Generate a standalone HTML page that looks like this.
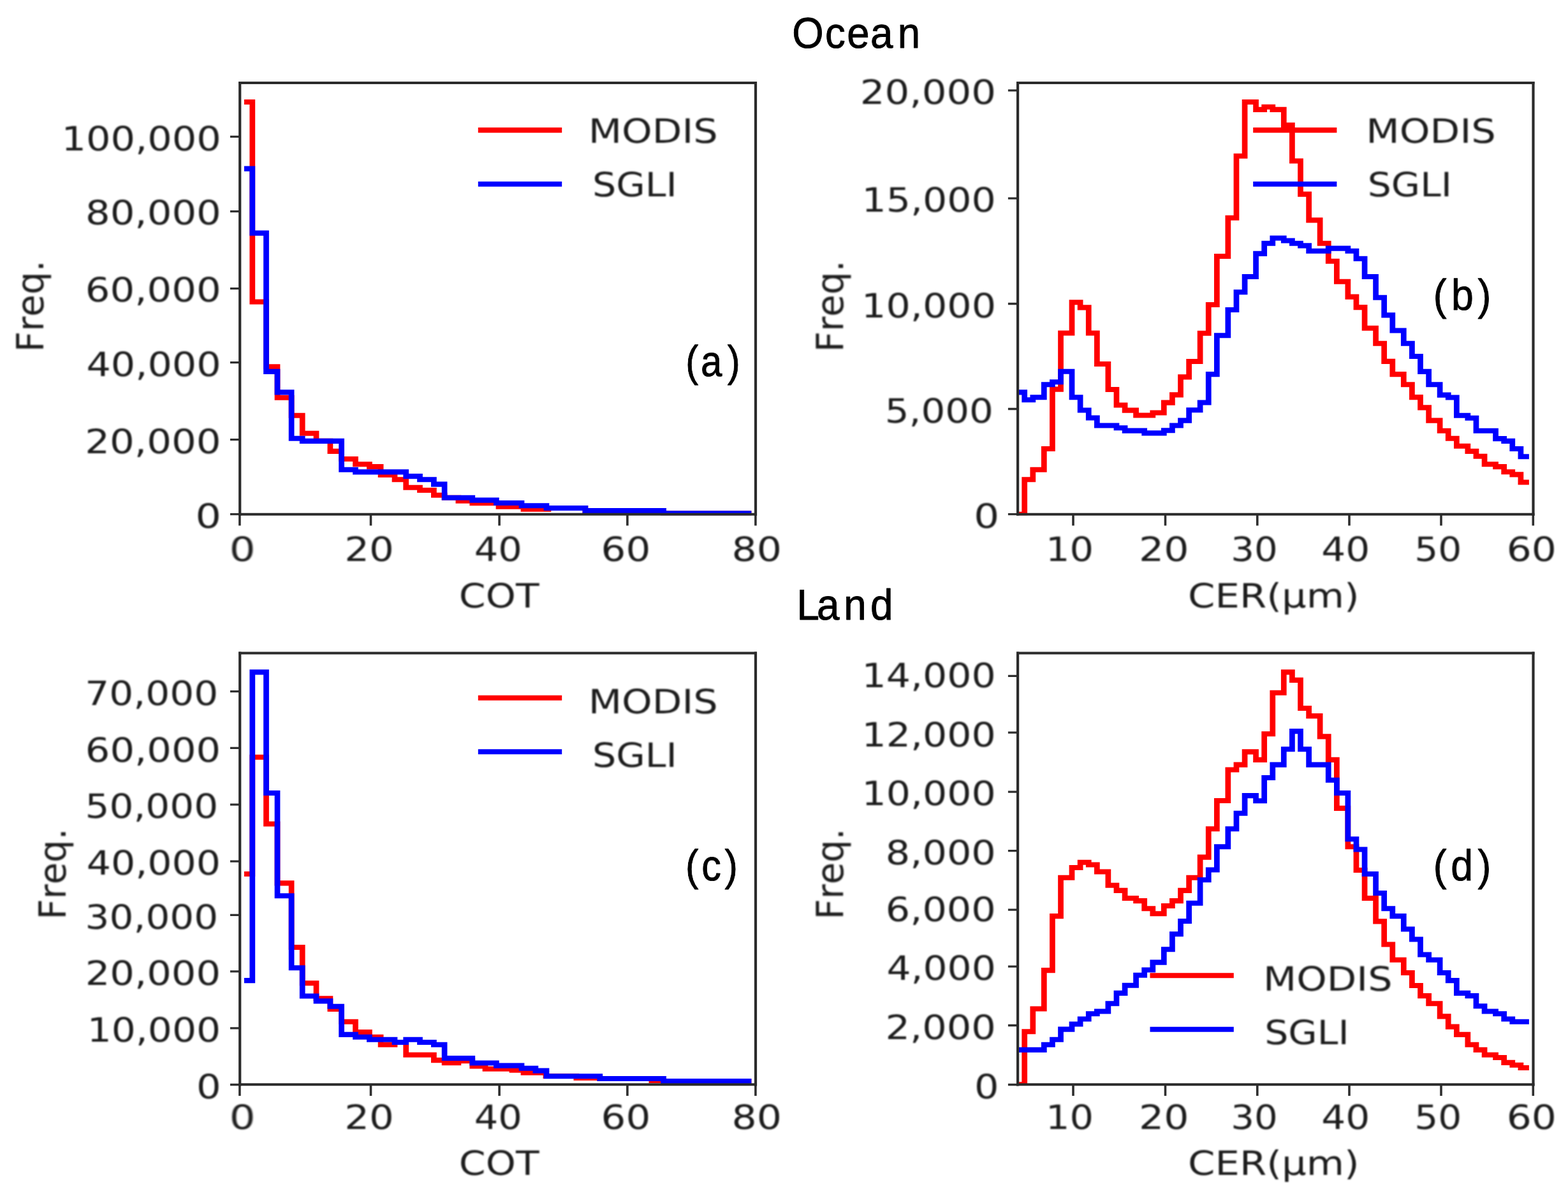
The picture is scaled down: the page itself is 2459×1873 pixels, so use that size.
<!DOCTYPE html>
<html lang="en"><head><meta charset="utf-8"><title>COT and CER histograms: MODIS vs SGLI</title>
<style>html,body{margin:0;padding:0;background:#fff;}body{width:2459px;height:1873px;overflow:hidden;}svg{display:block;}text{font-kerning:none;text-rendering:geometricPrecision;}</style></head><body>
<svg width="2459" height="1873" viewBox="0 0 2459 1873">
<rect width="2459" height="1873" fill="#ffffff"/>
<defs>
<filter id="soft" x="-20%" y="-20%" width="140%" height="140%" color-interpolation-filters="sRGB"><feGaussianBlur stdDeviation="1.1"/></filter>
<clipPath id="clip-a"><rect x="376.2" y="130.0" width="808.8" height="678.3"/></clipPath>
<clipPath id="clip-b"><rect x="1596.1" y="130.0" width="808.4000000000001" height="678.3"/></clipPath>
<clipPath id="clip-c"><rect x="376.2" y="1024.6" width="808.8" height="678.2"/></clipPath>
<clipPath id="clip-d"><rect x="1596.1" y="1024.6" width="808.4000000000001" height="678.2"/></clipPath>
</defs>
<g id="axes-a">
<g clip-path="url(#clip-a)"><g transform="scale(1.08084,1)" fill="none" stroke-width="8.09" stroke-linejoin="miter" stroke-linecap="butt">
<path d="M354.26,160.0H366.20V473.5H386.27V575.2H402.46V623.8H422.91V651.7H438.73V679.8H458.90V691.9H479.16V707.9H495.54V720.0H515.80V728.3H536.06V732.1H552.44V745.0H572.70V752.3H589.08V764.8H609.25V769.0H629.51V776.7H644.96V780.8H665.13V785.6H685.39V789.2H723.51V794.8H759.59V798.6H795.68V797.0H849.25V801.0H962.77V805.2H1090.26" stroke="#ff0000"/>
<path d="M354.26,264.6H366.20V365.6H386.27V582.9H402.46V615.4H422.91V687.7H438.73V691.9H495.54V736.7H515.80V740.4H589.08V747.1H609.25V752.3H629.51V759.6H644.96V780.8H685.39V784.6H720.18V789.0H756.82V793.2H792.90V797.0H849.25V801.0H962.77V805.2H1090.26" stroke="#0000ff"/>
</g></g>
<path d="M749.8,204.1H881.2" stroke="#ff0000" stroke-width="8.09" fill="none"/>
<path d="M749.8,288.7H881.2" stroke="#0000ff" stroke-width="8.09" fill="none"/>
<text filter="url(#soft)" transform="translate(922.75,224.20) scale(1.1529,1)" font-family="'DejaVu Sans', sans-serif" font-size="52.60" fill="#1c1c1c">MODIS</text>
<text filter="url(#soft)" transform="translate(928.92,308.30) scale(1.1184,1)" font-family="'DejaVu Sans', sans-serif" font-size="52.60" fill="#1c1c1c">SGLI</text>
<path d="M375.9,806.8V824.6M581.5,806.8V824.6M783.1,806.8V824.6M983.9,806.8V824.6M1184.9,806.8V824.6" stroke="#2f2f2f" stroke-width="3.6" fill="none"/>
<path d="M376.2,214.4H361.0M376.2,331.7H361.0M376.2,452.6H361.0M376.2,568.7H361.0M376.2,689.7H361.0M376.2,806.6H361.0" stroke="#2f2f2f" stroke-width="3.3" fill="none"/>
<path d="M376.2,130.0H1185.0M376.2,806.8H1185.0" stroke="#2b2b2b" stroke-width="4.0" stroke-linecap="square" fill="none"/>
<path d="M376.2,130.0V806.8M1185.0,130.0V806.8" stroke="#2b2b2b" stroke-width="4.2" stroke-linecap="square" fill="none"/>
<text filter="url(#soft)" transform="translate(359.77,880.30) scale(1.2186,1)" font-family="'DejaVu Sans', sans-serif" font-size="52.60" fill="#1c1c1c">0</text>
<text filter="url(#soft)" transform="translate(540.29,880.30) scale(1.1588,1)" font-family="'DejaVu Sans', sans-serif" font-size="52.60" fill="#1c1c1c">20</text>
<text filter="url(#soft)" transform="translate(743.71,880.30) scale(1.1237,1)" font-family="'DejaVu Sans', sans-serif" font-size="52.60" fill="#1c1c1c">40</text>
<text filter="url(#soft)" transform="translate(942.54,880.30) scale(1.1612,1)" font-family="'DejaVu Sans', sans-serif" font-size="52.60" fill="#1c1c1c">60</text>
<text filter="url(#soft)" transform="translate(1147.61,880.30) scale(1.1726,1)" font-family="'DejaVu Sans', sans-serif" font-size="52.60" fill="#1c1c1c">80</text>
<text filter="url(#soft)" transform="translate(96.45,235.55) scale(1.1511,1)" font-family="'DejaVu Sans', sans-serif" font-size="52.60" fill="#1c1c1c">100,000</text>
<text filter="url(#soft)" transform="translate(133.97,352.05) scale(1.1566,1)" font-family="'DejaVu Sans', sans-serif" font-size="52.60" fill="#1c1c1c">80,000</text>
<text filter="url(#soft)" transform="translate(133.85,473.35) scale(1.1561,1)" font-family="'DejaVu Sans', sans-serif" font-size="52.60" fill="#1c1c1c">60,000</text>
<text filter="url(#soft)" transform="translate(135.45,590.15) scale(1.1473,1)" font-family="'DejaVu Sans', sans-serif" font-size="52.60" fill="#1c1c1c">40,000</text>
<text filter="url(#soft)" transform="translate(133.23,711.45) scale(1.1596,1)" font-family="'DejaVu Sans', sans-serif" font-size="52.60" fill="#1c1c1c">20,000</text>
<text filter="url(#soft)" transform="translate(306.61,828.15) scale(1.2073,1)" font-family="'DejaVu Sans', sans-serif" font-size="52.60" fill="#1c1c1c">0</text>
<text filter="url(#soft)" transform="translate(719.83,953.00) scale(1.1400,1)" font-family="'DejaVu Sans', sans-serif" font-size="52.60" fill="#1c1c1c">COT</text>
<text filter="url(#soft)" transform="translate(67.90,552.23) rotate(-90) scale(0.9607,1)" font-family="'DejaVu Sans', sans-serif" font-size="58.60" fill="#1c1c1c">Freq.</text>
</g>
<g id="axes-b">
<g clip-path="url(#clip-b)"><g transform="scale(1.08084,1)" fill="none" stroke-width="8.09" stroke-linejoin="miter" stroke-linecap="butt">
<path d="M1476.72,806.8H1486.53V752.3H1498.66V736.7H1514.84V704.0H1526.98V610.6H1539.11V522.5H1555.29V474.2H1567.43V482.4H1579.56V522.5H1591.70V571.0H1607.88V611.0H1620.01V635.5H1632.15V643.6H1648.33V651.5H1660.46V651.5H1672.60V647.5H1688.78V631.6H1700.91V619.4H1713.05V591.4H1725.18V567.0H1741.36V522.7H1753.50V478.0H1765.63V402.0H1781.81V341.7H1793.95V244.8H1806.08V160.0H1822.26V171.9H1834.40V167.7H1846.53V171.9H1862.71V196.3H1874.85V252.5H1886.98V304.6H1899.12V345.4H1915.30V381.7H1927.43V409.8H1939.57V441.7H1955.75V465.6H1967.88V482.1H1980.02V514.8H1996.20V538.8H2008.33V566.9H2020.47V587.1H2036.65V603.3H2048.78V623.1H2060.92V639.4H2073.05V659.6H2089.23V675.8H2101.37V687.7H2113.50V699.8H2129.68V707.9H2141.82V715.8H2153.95V728.3H2170.13V732.1H2182.27V740.2H2194.40V744.4H2206.54V756.5H2218.55" stroke="#ff0000"/>
<path d="M1472.10,615.4H1486.53V627.3H1498.66V623.3H1514.84V603.3H1526.98V599.2H1539.11V582.8H1555.29V623.3H1567.43V643.5H1579.56V655.5H1591.70V667.5H1607.88V667.5H1620.01V671.2H1632.15V675.6H1648.33V675.6H1660.46V679.4H1672.60V679.4H1688.78V675.2H1700.91V667.5H1713.05V659.6H1725.18V643.3H1741.36V631.5H1753.50V587.1H1765.63V526.2H1781.81V486.0H1793.95V458.3H1806.08V434.0H1822.26V397.9H1834.40V381.7H1846.53V373.5H1862.71V377.5H1874.85V381.7H1886.98V385.4H1899.12V393.8H1915.30V393.8H1927.43V389.6H1939.57V389.6H1955.75V393.8H1967.88V405.8H1980.02V434.0H1996.20V466.7H2008.33V494.4H2020.47V518.5H2036.65V538.8H2048.78V559.0H2060.92V582.9H2073.05V603.3H2089.23V619.6H2101.37V623.5H2113.50V651.7H2129.68V655.8H2141.82V675.8H2153.95V675.8H2170.13V688.1H2182.27V691.9H2194.40V704.0H2206.54V716.2H2218.55" stroke="#0000ff"/>
</g></g>
<path d="M1965.2,204.1H2096.4" stroke="#ff0000" stroke-width="8.09" fill="none"/>
<path d="M1965.2,288.7H2096.4" stroke="#0000ff" stroke-width="8.09" fill="none"/>
<text filter="url(#soft)" transform="translate(2142.23,224.20) scale(1.1565,1)" font-family="'DejaVu Sans', sans-serif" font-size="52.60" fill="#1c1c1c">MODIS</text>
<text filter="url(#soft)" transform="translate(2144.75,308.30) scale(1.1111,1)" font-family="'DejaVu Sans', sans-serif" font-size="52.60" fill="#1c1c1c">SGLI</text>
<path d="M1683.0,806.8V824.6M1827.5,806.8V824.6M1971.8,806.8V824.6M2116.0,806.8V824.6M2260.0,806.8V824.6M2404.3,806.8V824.6" stroke="#2f2f2f" stroke-width="3.6" fill="none"/>
<path d="M1596.1,141.8H1580.9M1596.1,311.1H1580.9M1596.1,476.5H1580.9M1596.1,641.5H1580.9M1596.1,806.6H1580.9" stroke="#2f2f2f" stroke-width="3.3" fill="none"/>
<path d="M1596.1,130.0H2404.5M1596.1,806.8H2404.5" stroke="#2b2b2b" stroke-width="4.0" stroke-linecap="square" fill="none"/>
<path d="M1596.1,130.0V806.8M2404.5,130.0V806.8" stroke="#2b2b2b" stroke-width="4.2" stroke-linecap="square" fill="none"/>
<text filter="url(#soft)" transform="translate(1640.02,880.30) scale(1.1221,1)" font-family="'DejaVu Sans', sans-serif" font-size="52.60" fill="#1c1c1c">10</text>
<text filter="url(#soft)" transform="translate(1785.88,880.30) scale(1.1731,1)" font-family="'DejaVu Sans', sans-serif" font-size="52.60" fill="#1c1c1c">20</text>
<text filter="url(#soft)" transform="translate(1930.30,880.30) scale(1.0987,1)" font-family="'DejaVu Sans', sans-serif" font-size="52.60" fill="#1c1c1c">30</text>
<text filter="url(#soft)" transform="translate(2072.18,880.30) scale(1.1368,1)" font-family="'DejaVu Sans', sans-serif" font-size="52.60" fill="#1c1c1c">40</text>
<text filter="url(#soft)" transform="translate(2218.21,880.30) scale(1.1064,1)" font-family="'DejaVu Sans', sans-serif" font-size="52.60" fill="#1c1c1c">50</text>
<text filter="url(#soft)" transform="translate(2362.70,880.30) scale(1.1696,1)" font-family="'DejaVu Sans', sans-serif" font-size="52.60" fill="#1c1c1c">60</text>
<text filter="url(#soft)" transform="translate(1348.74,163.40) scale(1.1584,1)" font-family="'DejaVu Sans', sans-serif" font-size="52.60" fill="#1c1c1c">20,000</text>
<text filter="url(#soft)" transform="translate(1351.49,332.35) scale(1.1432,1)" font-family="'DejaVu Sans', sans-serif" font-size="52.60" fill="#1c1c1c">15,000</text>
<text filter="url(#soft)" transform="translate(1351.08,497.55) scale(1.1460,1)" font-family="'DejaVu Sans', sans-serif" font-size="52.60" fill="#1c1c1c">10,000</text>
<text filter="url(#soft)" transform="translate(1387.71,663.05) scale(1.1305,1)" font-family="'DejaVu Sans', sans-serif" font-size="52.60" fill="#1c1c1c">5,000</text>
<text filter="url(#soft)" transform="translate(1527.27,828.15) scale(1.1922,1)" font-family="'DejaVu Sans', sans-serif" font-size="52.60" fill="#1c1c1c">0</text>
<text filter="url(#soft)" transform="translate(1863.08,953.00) scale(1.1571,1)" font-family="'DejaVu Sans', sans-serif" font-size="52.60" fill="#1c1c1c">CER(µm)</text>
<text filter="url(#soft)" transform="translate(1322.20,552.33) rotate(-90) scale(0.9615,1)" font-family="'DejaVu Sans', sans-serif" font-size="58.60" fill="#1c1c1c">Freq.</text>
</g>
<g id="axes-c">
<g clip-path="url(#clip-c)"><g transform="scale(1.08084,1)" fill="none" stroke-width="8.09" stroke-linejoin="miter" stroke-linecap="butt">
<path d="M354.26,1371.0H366.20V1187.7H386.27V1292.5H402.46V1385.4H422.91V1486.0H438.73V1542.3H458.90V1566.2H479.16V1583.0H495.54V1602.7H515.80V1619.0H536.06V1626.7H552.44V1638.8H572.70V1635.0H589.08V1654.8H629.51V1663.1H644.96V1667.3H665.13V1664.2H685.39V1672.5H704.08V1676.7H742.94V1678.6H759.59V1682.6H791.98V1688.0H836.29V1691.0H870.43V1692.0H945.47V1695.0H962.77V1696.0H1090.26" stroke="#ff0000"/>
<path d="M354.26,1538.1H366.20V1054.4H386.27V1244.0H402.46V1405.2H422.91V1518.3H438.73V1562.5H458.90V1570.4H479.16V1578.8H495.54V1622.9H515.80V1626.7H536.06V1630.8H572.70V1635.0H589.08V1630.8H609.25V1635.0H629.51V1638.8H644.96V1660.0H685.39V1667.5H720.18V1671.6H756.82V1675.8H777.08V1679.6H792.90V1688.2H870.43V1692.0H962.77V1696.0H1090.26" stroke="#0000ff"/>
</g></g>
<path d="M749.8,1094.7H881.2" stroke="#ff0000" stroke-width="8.09" fill="none"/>
<path d="M749.8,1179.3H881.2" stroke="#0000ff" stroke-width="8.09" fill="none"/>
<text filter="url(#soft)" transform="translate(922.75,1118.60) scale(1.1529,1)" font-family="'DejaVu Sans', sans-serif" font-size="52.60" fill="#1c1c1c">MODIS</text>
<text filter="url(#soft)" transform="translate(928.92,1203.20) scale(1.1184,1)" font-family="'DejaVu Sans', sans-serif" font-size="52.60" fill="#1c1c1c">SGLI</text>
<path d="M375.9,1701.3V1719.1M581.5,1701.3V1719.1M783.1,1701.3V1719.1M983.9,1701.3V1719.1M1184.9,1701.3V1719.1" stroke="#2f2f2f" stroke-width="3.6" fill="none"/>
<path d="M376.2,1084.7H361.0M376.2,1173.4H361.0M376.2,1262.1H361.0M376.2,1351.1H361.0M376.2,1435.4H361.0M376.2,1523.8H361.0M376.2,1612.8H361.0M376.2,1701.5H361.0" stroke="#2f2f2f" stroke-width="3.3" fill="none"/>
<path d="M376.2,1024.6H1185.0M376.2,1701.3H1185.0" stroke="#2b2b2b" stroke-width="4.0" stroke-linecap="square" fill="none"/>
<path d="M376.2,1024.6V1701.3M1185.0,1024.6V1701.3" stroke="#2b2b2b" stroke-width="4.2" stroke-linecap="square" fill="none"/>
<text filter="url(#soft)" transform="translate(359.77,1771.20) scale(1.2186,1)" font-family="'DejaVu Sans', sans-serif" font-size="52.60" fill="#1c1c1c">0</text>
<text filter="url(#soft)" transform="translate(540.29,1771.20) scale(1.1588,1)" font-family="'DejaVu Sans', sans-serif" font-size="52.60" fill="#1c1c1c">20</text>
<text filter="url(#soft)" transform="translate(743.71,1771.20) scale(1.1237,1)" font-family="'DejaVu Sans', sans-serif" font-size="52.60" fill="#1c1c1c">40</text>
<text filter="url(#soft)" transform="translate(942.54,1771.20) scale(1.1612,1)" font-family="'DejaVu Sans', sans-serif" font-size="52.60" fill="#1c1c1c">60</text>
<text filter="url(#soft)" transform="translate(1147.61,1771.20) scale(1.1726,1)" font-family="'DejaVu Sans', sans-serif" font-size="52.60" fill="#1c1c1c">80</text>
<text filter="url(#soft)" transform="translate(133.20,1106.35) scale(1.1359,1)" font-family="'DejaVu Sans', sans-serif" font-size="52.60" fill="#1c1c1c">70,000</text>
<text filter="url(#soft)" transform="translate(133.86,1194.95) scale(1.1533,1)" font-family="'DejaVu Sans', sans-serif" font-size="52.60" fill="#1c1c1c">60,000</text>
<text filter="url(#soft)" transform="translate(133.50,1283.25) scale(1.1343,1)" font-family="'DejaVu Sans', sans-serif" font-size="52.60" fill="#1c1c1c">50,000</text>
<text filter="url(#soft)" transform="translate(135.66,1372.05) scale(1.1433,1)" font-family="'DejaVu Sans', sans-serif" font-size="52.60" fill="#1c1c1c">40,000</text>
<text filter="url(#soft)" transform="translate(133.56,1456.95) scale(1.1340,1)" font-family="'DejaVu Sans', sans-serif" font-size="52.60" fill="#1c1c1c">30,000</text>
<text filter="url(#soft)" transform="translate(133.65,1545.15) scale(1.1545,1)" font-family="'DejaVu Sans', sans-serif" font-size="52.60" fill="#1c1c1c">20,000</text>
<text filter="url(#soft)" transform="translate(136.73,1633.95) scale(1.1375,1)" font-family="'DejaVu Sans', sans-serif" font-size="52.60" fill="#1c1c1c">10,000</text>
<text filter="url(#soft)" transform="translate(308.00,1722.65) scale(1.1545,1)" font-family="'DejaVu Sans', sans-serif" font-size="52.60" fill="#1c1c1c">0</text>
<text filter="url(#soft)" transform="translate(719.83,1842.90) scale(1.1400,1)" font-family="'DejaVu Sans', sans-serif" font-size="52.60" fill="#1c1c1c">COT</text>
<text filter="url(#soft)" transform="translate(102.90,1442.49) rotate(-90) scale(0.9549,1)" font-family="'DejaVu Sans', sans-serif" font-size="58.60" fill="#1c1c1c">Freq.</text>
</g>
<g id="axes-d">
<g clip-path="url(#clip-d)"><g transform="scale(1.08084,1)" fill="none" stroke-width="8.09" stroke-linejoin="miter" stroke-linecap="butt">
<path d="M1476.72,1701.3H1486.53V1618.3H1498.66V1582.5H1514.84V1522.1H1526.98V1437.1H1539.11V1376.7H1555.29V1361.0H1567.43V1352.7H1579.56V1356.5H1591.70V1367.5H1607.88V1388.8H1620.01V1396.9H1632.15V1409.0H1648.33V1413.1H1660.46V1425.2H1672.60V1433.3H1688.78V1421.0H1700.91V1413.1H1713.05V1396.9H1725.18V1376.7H1741.36V1344.6H1753.50V1300.2H1765.63V1256.0H1781.81V1207.5H1793.95V1199.6H1806.08V1179.4H1822.26V1191.9H1834.40V1151.2H1846.53V1086.7H1862.71V1054.4H1874.85V1066.9H1886.98V1111.0H1899.12V1123.1H1915.30V1155.4H1927.43V1191.9H1939.57V1267.9H1955.75V1328.3H1967.88V1365.0H1980.02V1409.0H1996.20V1445.4H2008.33V1481.5H2020.47V1505.8H2036.65V1526.0H2048.78V1546.0H2060.92V1562.1H2073.05V1574.2H2089.23V1594.4H2101.37V1610.6H2113.50V1622.9H2129.68V1638.8H2141.82V1646.9H2153.95V1654.8H2170.13V1659.0H2182.27V1666.9H2194.40V1670.8H2206.54V1675.0H2218.55" stroke="#ff0000"/>
<path d="M1472.10,1646.9H1486.53V1646.9H1498.66V1646.9H1514.84V1638.8H1526.98V1630.8H1539.11V1614.6H1555.29V1606.5H1567.43V1598.5H1579.56V1590.2H1591.70V1586.5H1607.88V1574.2H1620.01V1557.9H1632.15V1545.8H1648.33V1529.8H1660.46V1521.5H1672.60V1509.6H1688.78V1489.2H1700.91V1465.2H1713.05V1445.0H1725.18V1416.7H1741.36V1380.2H1753.50V1364.5H1765.63V1328.3H1781.81V1300.2H1793.95V1275.8H1806.08V1248.1H1822.26V1256.2H1834.40V1220.0H1846.53V1199.6H1862.71V1175.2H1874.85V1147.1H1886.98V1175.2H1899.12V1199.6H1915.30V1199.6H1927.43V1223.8H1939.57V1244.0H1955.75V1316.2H1967.88V1332.5H1980.02V1371.0H1996.20V1401.0H2008.33V1425.2H2020.47V1437.1H2036.65V1457.5H2048.78V1473.5H2060.92V1497.5H2073.05V1505.8H2089.23V1526.0H2101.37V1538.1H2113.50V1557.9H2129.68V1562.1H2141.82V1578.3H2153.95V1586.5H2170.13V1590.2H2182.27V1598.5H2194.40V1602.7H2206.54V1602.7H2218.55" stroke="#0000ff"/>
</g></g>
<path d="M1803.5,1530.2H1934.8" stroke="#ff0000" stroke-width="8.09" fill="none"/>
<path d="M1803.5,1614.8H1934.8" stroke="#0000ff" stroke-width="8.09" fill="none"/>
<text filter="url(#soft)" transform="translate(1980.96,1553.50) scale(1.1499,1)" font-family="'DejaVu Sans', sans-serif" font-size="52.60" fill="#1c1c1c">MODIS</text>
<text filter="url(#soft)" transform="translate(1983.13,1638.20) scale(1.1148,1)" font-family="'DejaVu Sans', sans-serif" font-size="52.60" fill="#1c1c1c">SGLI</text>
<path d="M1683.0,1701.3V1719.1M1827.5,1701.3V1719.1M1971.8,1701.3V1719.1M2116.0,1701.3V1719.1M2260.0,1701.3V1719.1M2404.3,1701.3V1719.1" stroke="#2f2f2f" stroke-width="3.6" fill="none"/>
<path d="M1596.1,1060.3H1580.9M1596.1,1149.2H1580.9M1596.1,1242.2H1580.9M1596.1,1334.6H1580.9M1596.1,1427.2H1580.9M1596.1,1516.1H1580.9M1596.1,1608.5H1580.9M1596.1,1701.5H1580.9" stroke="#2f2f2f" stroke-width="3.3" fill="none"/>
<path d="M1596.1,1024.6H2404.5M1596.1,1701.3H2404.5" stroke="#2b2b2b" stroke-width="4.0" stroke-linecap="square" fill="none"/>
<path d="M1596.1,1024.6V1701.3M2404.5,1024.6V1701.3" stroke="#2b2b2b" stroke-width="4.2" stroke-linecap="square" fill="none"/>
<text filter="url(#soft)" transform="translate(1640.02,1771.20) scale(1.1221,1)" font-family="'DejaVu Sans', sans-serif" font-size="52.60" fill="#1c1c1c">10</text>
<text filter="url(#soft)" transform="translate(1785.88,1771.20) scale(1.1731,1)" font-family="'DejaVu Sans', sans-serif" font-size="52.60" fill="#1c1c1c">20</text>
<text filter="url(#soft)" transform="translate(1930.30,1771.20) scale(1.0987,1)" font-family="'DejaVu Sans', sans-serif" font-size="52.60" fill="#1c1c1c">30</text>
<text filter="url(#soft)" transform="translate(2072.18,1771.20) scale(1.1368,1)" font-family="'DejaVu Sans', sans-serif" font-size="52.60" fill="#1c1c1c">40</text>
<text filter="url(#soft)" transform="translate(2218.21,1771.20) scale(1.1064,1)" font-family="'DejaVu Sans', sans-serif" font-size="52.60" fill="#1c1c1c">50</text>
<text filter="url(#soft)" transform="translate(2362.70,1771.20) scale(1.1696,1)" font-family="'DejaVu Sans', sans-serif" font-size="52.60" fill="#1c1c1c">60</text>
<text filter="url(#soft)" transform="translate(1351.50,1078.05) scale(1.1426,1)" font-family="'DejaVu Sans', sans-serif" font-size="52.60" fill="#1c1c1c">14,000</text>
<text filter="url(#soft)" transform="translate(1351.50,1170.65) scale(1.1426,1)" font-family="'DejaVu Sans', sans-serif" font-size="52.60" fill="#1c1c1c">12,000</text>
<text filter="url(#soft)" transform="translate(1351.50,1263.05) scale(1.1426,1)" font-family="'DejaVu Sans', sans-serif" font-size="52.60" fill="#1c1c1c">10,000</text>
<text filter="url(#soft)" transform="translate(1388.80,1356.05) scale(1.1490,1)" font-family="'DejaVu Sans', sans-serif" font-size="52.60" fill="#1c1c1c">8,000</text>
<text filter="url(#soft)" transform="translate(1388.68,1444.65) scale(1.1498,1)" font-family="'DejaVu Sans', sans-serif" font-size="52.60" fill="#1c1c1c">6,000</text>
<text filter="url(#soft)" transform="translate(1390.38,1537.35) scale(1.1382,1)" font-family="'DejaVu Sans', sans-serif" font-size="52.60" fill="#1c1c1c">4,000</text>
<text filter="url(#soft)" transform="translate(1388.46,1630.15) scale(1.1512,1)" font-family="'DejaVu Sans', sans-serif" font-size="52.60" fill="#1c1c1c">2,000</text>
<text filter="url(#soft)" transform="translate(1528.11,1722.65) scale(1.1507,1)" font-family="'DejaVu Sans', sans-serif" font-size="52.60" fill="#1c1c1c">0</text>
<text filter="url(#soft)" transform="translate(1863.08,1842.90) scale(1.1571,1)" font-family="'DejaVu Sans', sans-serif" font-size="52.60" fill="#1c1c1c">CER(µm)</text>
<text filter="url(#soft)" transform="translate(1322.20,1442.39) rotate(-90) scale(0.9542,1)" font-family="'DejaVu Sans', sans-serif" font-size="58.60" fill="#1c1c1c">Freq.</text>
</g>
<text transform="scale(0.9400,1)" x="1321.60 1376.54 1413.08 1452.05 1497.54" y="74.60" font-family="'Liberation Sans', sans-serif" font-size="67.60" fill="#000000" stroke="#000000" stroke-width="0.9" stroke-linejoin="round">Ocean</text>
<text transform="scale(0.9400,1)" x="1329.17 1362.69 1407.64 1452.23" y="971.60" font-family="'Liberation Sans', sans-serif" font-size="67.80" fill="#000000" stroke="#000000" stroke-width="0.9" stroke-linejoin="round">Land</text>
<text transform="scale(0.8800,1)" x="1221.94 1248.91 1296.21" y="589.80" font-family="'Liberation Sans', sans-serif" font-size="68.00" fill="#000000" stroke="#000000" stroke-width="0.9" stroke-linejoin="round">(a)</text>
<text transform="scale(0.9200,1)" x="2443.34 2473.81 2518.90" y="486.00" font-family="'Liberation Sans', sans-serif" font-size="68.00" fill="#000000" stroke="#000000" stroke-width="0.9" stroke-linejoin="round">(b)</text>
<text transform="scale(0.9000,1)" x="1194.49 1222.51 1262.75" y="1381.00" font-family="'Liberation Sans', sans-serif" font-size="68.00" fill="#000000" stroke="#000000" stroke-width="0.9" stroke-linejoin="round">(c)</text>
<text transform="scale(0.9200,1)" x="2443.34 2473.10 2518.90" y="1381.00" font-family="'Liberation Sans', sans-serif" font-size="68.00" fill="#000000" stroke="#000000" stroke-width="0.9" stroke-linejoin="round">(d)</text>
</svg></body></html>
